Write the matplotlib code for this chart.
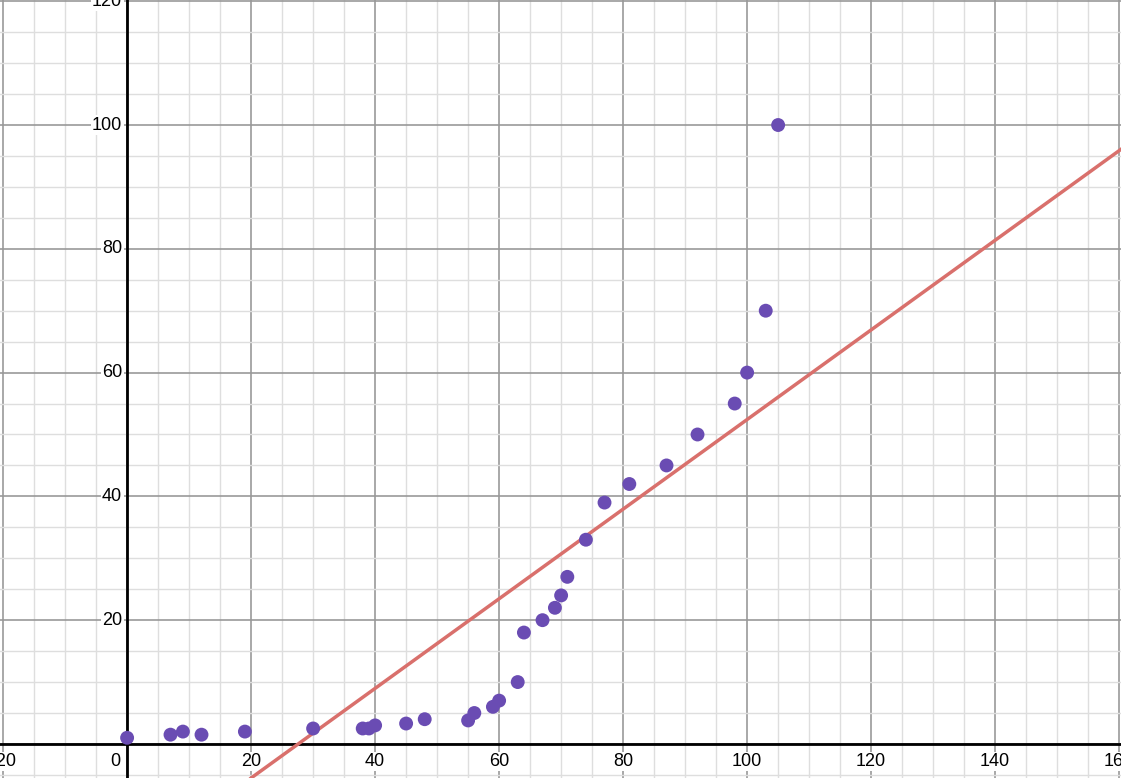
import numpy as np
import matplotlib
matplotlib.use("Agg")
import matplotlib.pyplot as plt

# data
xs = [0, 7, 9, 12, 19, 30, 38, 39, 40, 45, 48, 55, 56, 59, 60, 63, 64, 67,
      69, 70, 71, 74, 77, 81, 87, 92, 98, 100, 103, 105]
ys = [1, 1.5, 2, 1.5, 2, 2.5, 2.5, 2.5, 3, 3.3, 4, 3.8, 5, 6, 7, 10, 18, 20,
      22, 24, 27, 33, 39, 42, 45, 50, 55, 60, 70, 100]

slope = 0.724
intercept = -19.98

x_ticks = [-20, 20, 40, 60, 80, 100, 120, 140, 160]
y_ticks = [20, 40, 60, 80, 100, 120]

xlim = (-20.5, 160.3)
ylim = (-5.5, 120.2)

plt.rcParams['font.family'] = ['Liberation Sans', 'DejaVu Sans']

fig = plt.figure(figsize=(11.21, 7.78), dpi=100)
ax = fig.add_axes([0, 0, 1, 1])
ax.set_xlim(*xlim)
ax.set_ylim(*ylim)
for s in ax.spines.values():
    s.set_visible(False)
ax.set_xticks([])
ax.set_yticks([])

# grid: minor every 5, major every 20
for v in np.arange(-20, 165, 5):
    major = v % 20 == 0
    ax.axvline(v, color='#999999' if major else '#dedede',
               lw=1.2 if major else 1.0, zorder=0)
for v in np.arange(-5, 125, 5):
    major = v % 20 == 0
    ax.axhline(v, color='#999999' if major else '#dedede',
               lw=1.2 if major else 1.0, zorder=0)

ax.axhline(0, color='black', lw=2, zorder=1)
ax.axvline(0, color='black', lw=2, zorder=1)

halo = dict(facecolor='white', edgecolor='none', pad=1.0)
for v in x_ticks:
    ax.annotate(str(v), (v, 0), xytext=(0, -6.5), textcoords='offset points',
                ha='center', va='top', fontsize=13, zorder=2, bbox=halo)
ax.annotate('0', (0, 0), xytext=(-5, -6.5), textcoords='offset points',
            ha='right', va='top', fontsize=13, zorder=2, bbox=halo)
for v in y_ticks:
    ax.annotate(str(v), (0, v), xytext=(-3.5, 0), textcoords='offset points',
                ha='right', va='center', fontsize=13, zorder=2, bbox=halo)

ax.axline((0, intercept), slope=slope, color='#d9706c', lw=2.5, zorder=3)
ax.scatter(xs, ys, s=100, color='#6a4cb3', edgecolors='none', zorder=4)

fig.savefig('out.png', dpi=100)
